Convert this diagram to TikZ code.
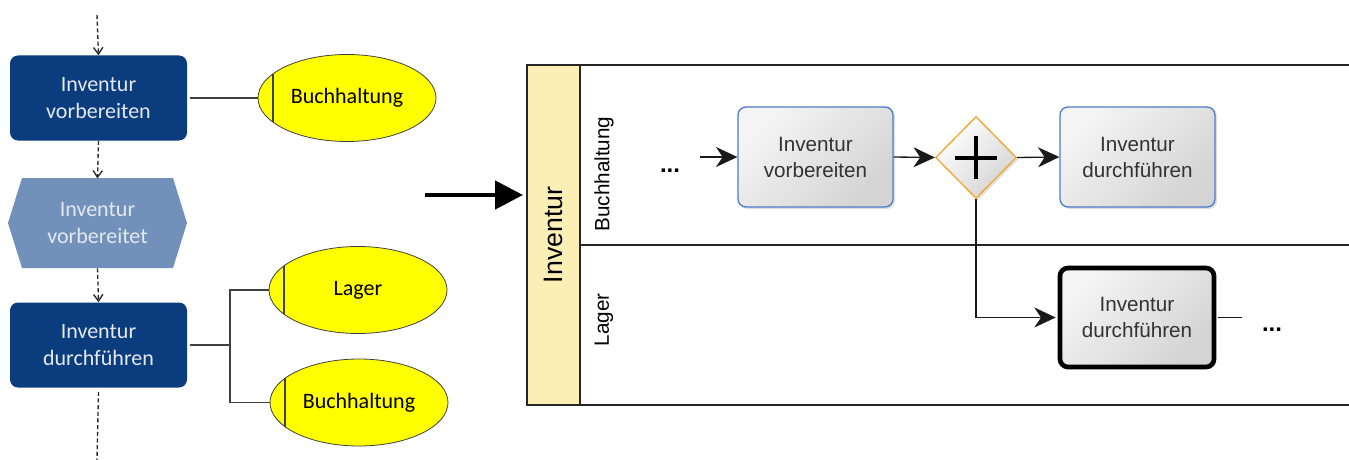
\documentclass[tikz,border=0pt]{standalone}
\usepackage{fontspec}
\setmainfont{Liberation Sans}
\newfontfamily\calfont{Carlito}
\usetikzlibrary{arrows.meta,shapes.geometric,shadows}
\definecolor{fnblue}{HTML}{0B3C7D}
\definecolor{evblue}{HTML}{7190BA}
\definecolor{fntext}{HTML}{E4E9F0}
\definecolor{orgyel}{HTML}{FFFF00}
\definecolor{poolhead}{HTML}{FCEFB6}
\definecolor{taskline}{HTML}{4D7BCB}
\definecolor{gwline}{HTML}{F0A830}
\definecolor{tasktext}{HTML}{333333}
\begin{document}
\begin{tikzpicture}[x=0.75pt,y=-0.75pt,
  calf/.style={font=\calfont\fontsize{16.5}{20}\selectfont},
  fnbox/.style={rectangle, rounded corners=6pt, fill=fnblue, text=fntext,
    minimum width=132.75pt, minimum height=63.75pt, align=center, calf},
  evtext/.style={rectangle, text=fntext, align=center, calf,
    minimum width=113pt, minimum height=67.5pt},
  orgunit/.style={ellipse, draw=black!75, line width=0.6pt, fill=orgyel,
    minimum width=133.5pt, minimum height=65.25pt, inner sep=0pt, calf,
    path picture={\draw[black!75, line width=0.9pt]
      ([xshift=11.25pt]path picture bounding box.north west) --
      ([xshift=11.25pt]path picture bounding box.south west);}},
  dasharrow/.style={draw=black!85, line width=1pt, dash pattern=on 3pt off 2pt,
    -{Straight Barb[length=5pt,width=7pt]}},
  dashline/.style={draw=black!85, line width=1pt, dash pattern=on 3pt off 2pt},
  assign/.style={draw=black!75, line width=0.8pt},
  task/.style={rectangle, rounded corners=6pt, draw=taskline, line width=1pt,
    top color=white!96!black, bottom color=black!17, shading angle=45,
    minimum width=116.25pt, minimum height=75pt, align=center, text=tasktext,
    font=\fontsize{15.5}{19.5}\selectfont,
    drop shadow={shadow xshift=1.5pt, shadow yshift=-1.5pt, opacity=0.25}},
  bigtask/.style={task, draw=black, line width=3.5pt,
    minimum width=115.5pt, minimum height=74.25pt},
  gateway/.style={diamond, draw=gwline, line width=1pt,
    top color=white, bottom color=black!17, shading angle=45,
    minimum width=60.75pt, minimum height=61.5pt, inner sep=0pt,
    drop shadow={shadow xshift=1.5pt, shadow yshift=-1.5pt, opacity=0.25}},
  flow/.style={draw=black!90, line width=1pt,
    -{Stealth[length=16pt,width=15pt,inset=5pt]}},
  lane/.style={draw=black!85, line width=1.3pt},
  lanelabel/.style={rotate=90, font=\fontsize{15.5}{18}\selectfont},
  dots/.style={anchor=base, font=\bfseries\fontsize{18}{20}\selectfont}
]
\useasboundingbox (0,0) rectangle (1349,460);

% ---------- EPC process chain ----------
\coordinate (start) at (97,15);
\node[fnbox] (fn1) at (98.5,98) {Inventur\\vorbereiten};
\node[orgunit] (org1) at (347,98) {Buchhaltung};

\coordinate (evc) at (97.5,223);
\fill[evblue] ([shift={(-89.5,0)}]evc) -- ([shift={(-75.5,-45)}]evc)
  -- ([shift={(75.5,-45)}]evc) -- ([shift={(89.5,0)}]evc)
  -- ([shift={(75.5,45)}]evc) -- ([shift={(-75.5,45)}]evc) -- cycle;
\node[evtext] (ev1) at (evc) {Inventur\\vorbereitet};

\node[fnbox] (fn2) at (98.5,345) {Inventur\\durchführen};
\node[orgunit] (org2) at (358,290) {Lager};
\node[orgunit] (org3) at (359,402.5) {Buchhaltung};
\coordinate (end) at (97,460);
\coordinate (junc) at (230,345);

\draw[dasharrow] (start) -- (fn1.north);
\draw[dasharrow] (fn1.south) -- ([yshift=-0.5pt]ev1.north);
\draw[dasharrow] (ev1.south) -- (fn2.north);
\draw[dashline] ([yshift=-3pt]fn2.south) -- (end);

\draw[assign] ([xshift=2pt]fn1.east) -- (org1.west);
\draw[assign] ([xshift=2pt]fn2.east) -- (junc);
\draw[assign] (junc) |- (org2.west);
\draw[assign] (junc) |- (org3.west);

% ---------- transformation arrow ----------
\coordinate (tfrom) at (425,195);
\coordinate (tto) at (523,195);
\draw[line width=3.5pt, -{Triangle[length=21pt,width=21pt]}] (tfrom) -- (tto);

% ---------- BPMN pool ----------
\fill[poolhead] (527,65) rectangle (580,405);
\draw[lane] (1349,65) -- (527,65) -- (527,405) -- (1349,405);
\draw[lane] (580,65) -- (580,405);
\draw[lane] (580,245) -- (1349,245);
\node[rotate=90, font=\fontsize{20}{24}\selectfont] (poolname) at (553,235) {Inventur};
\node[lanelabel] (lane1) at (604,174) {Buchhaltung};
\node[lanelabel] (lane2) at (604,320) {Lager};

\node[dots] (dots1) at (670,172) {...};
\coordinate (in1) at (700,157);
\node[task] (t1) at (815.5,157) {Inventur\\vorbereiten};
\node[gateway] (gw) at (976,157.5) {};
\draw[line width=3pt] ([xshift=-16pt]gw.center) -- ([xshift=16pt]gw.center);
\draw[line width=3pt] ([yshift=-16pt]gw.center) -- ([yshift=16pt]gw.center);
\node[task] (t2) at (1137.5,157) {Inventur\\durchführen};
\node[bigtask] (t3) at (1137,317.5) {Inventur\\durchführen};
\coordinate (out3) at (1242,317.5);
\node[dots] (dots2) at (1272,331) {...};

\draw[flow] (in1) -- (t1.west);
\draw[flow] (t1.east) -- (gw.west);
\draw[flow] (gw.east) -- (t2.west);
\draw[flow] (gw.south) |- ([xshift=-1.5pt]t3.west);
\draw[draw=black!90, line width=1pt] ([xshift=1.5pt]t3.east) -- (out3);
\end{tikzpicture}
\end{document}
